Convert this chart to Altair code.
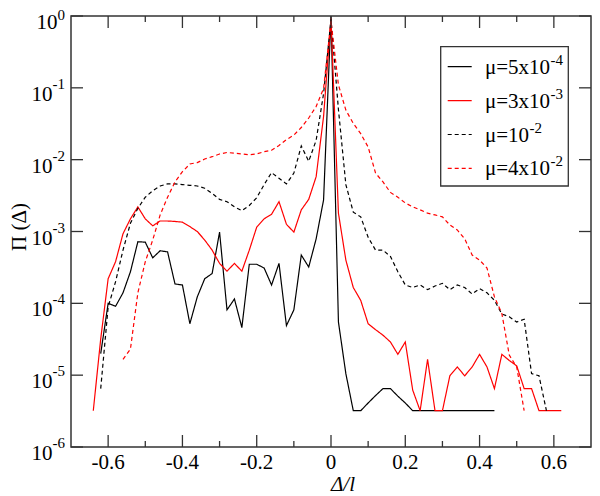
import altair as alt
import pandas as pd

FONT = "Liberation Serif"
W, H = 520, 431

# ---- data ----
names = ["mu=5e-4", "mu=3e-3", "mu=1e-2", "mu=4e-2"]
colors = ["#000000", "#ff0000", "#000000", "#ff0000"]
dashes = [[1, 0], [1, 0], [4, 3], [4, 3]]

s1_x = [-0.62, -0.60, -0.58, -0.56, -0.54, -0.52, -0.50, -0.48, -0.46, -0.44,
        -0.42, -0.40, -0.38, -0.36, -0.34, -0.32, -0.30, -0.28, -0.26, -0.24,
        -0.22, -0.20, -0.18, -0.16, -0.14, -0.12, -0.10, -0.08, -0.06, -0.04,
        -0.02, 0.00, 0.02, 0.04, 0.06, 0.08, 0.10, 0.12, 0.14, 0.16,
        0.18, 0.20, 0.22, 0.24, 0.26, 0.28, 0.30, 0.32, 0.34, 0.36,
        0.38, 0.40, 0.42, 0.44]
s1_y = [2.0e-5, 1.0e-4, 9.1e-5, 1.4e-4, 2.75e-4, 7.2e-4, 7.1e-4, 4.3e-4, 5.4e-4, 5.2e-4,
        1.86e-4, 1.8e-4, 5.2e-5, 1.23e-4, 2.2e-4, 2.6e-4, 9.8e-4, 8.1e-5, 1.15e-4, 4.6e-5,
        3.5e-4, 3.5e-4, 3.1e-4, 1.8e-4, 3.6e-4, 4.9e-5, 8.1e-5, 4.7e-4, 3.2e-4, 7.9e-4,
        2.75e-3, 1.0, 5.5e-5, 1.05e-5, 3.2e-6, 3.2e-6, 4.1e-6, 5.2e-6, 6.5e-6, 6.5e-6,
        5.1e-6, 4.1e-6, 3.2e-6, 3.2e-6, 3.2e-6, 3.2e-6, 3.2e-6, 3.2e-6, 3.2e-6, 3.2e-6,
        3.2e-6, 3.2e-6, 3.2e-6, 3.2e-6]

s2_x = [-0.64, -0.62, -0.60, -0.58, -0.56, -0.54, -0.52, -0.50, -0.48, -0.46,
        -0.44, -0.42, -0.40, -0.38, -0.36, -0.34, -0.32, -0.30, -0.28, -0.26,
        -0.24, -0.22, -0.20, -0.18, -0.16, -0.14, -0.12, -0.10, -0.08, -0.06,
        -0.04, -0.02, 0.00, 0.02, 0.04, 0.06, 0.08, 0.10, 0.12, 0.14,
        0.16, 0.18, 0.20, 0.22, 0.24, 0.26, 0.28, 0.30, 0.32, 0.34,
        0.36, 0.38, 0.40, 0.42, 0.44, 0.46, 0.48, 0.50, 0.52, 0.54,
        0.56, 0.58, 0.60, 0.62]
s2_y = [3.2e-6, 3.2e-5, 2.2e-4, 3.8e-4, 9.3e-4, 1.5e-3, 2.2e-3, 1.5e-3, 1.2e-3, 1.4e-3,
        1.4e-3, 1.38e-3, 1.35e-3, 1.17e-3, 1.0e-3, 7.6e-4, 5.5e-4, 3.6e-4, 2.8e-4, 3.6e-4,
        2.8e-4, 5.5e-4, 1.15e-3, 1.5e-3, 1.74e-3, 2.6e-3, 1.26e-3, 9.8e-4, 2.0e-3, 2.8e-3,
        5.8e-3, 4.0e-2, 0.93, 1.8e-3, 4.0e-4, 1.66e-4, 1.1e-4, 5.2e-5, 4.3e-5, 3.6e-5,
        2.9e-5, 1.95e-5, 2.9e-5, 6.2e-6, 3.2e-6, 1.66e-5, 3.2e-6, 3.2e-6, 9.8e-6, 1.3e-5,
        9.8e-6, 1.3e-5, 1.95e-5, 1.3e-5, 6.5e-6, 1.95e-5, 1.6e-5, 1.35e-5, 6.5e-6, 6.5e-6,
        3.2e-6, 3.2e-6, 3.2e-6, 3.2e-6]

s3_x = [-0.62, -0.60, -0.58, -0.56, -0.54, -0.52, -0.50, -0.48, -0.46, -0.44,
        -0.42, -0.40, -0.38, -0.36, -0.34, -0.32, -0.30, -0.28, -0.26, -0.24,
        -0.22, -0.20, -0.18, -0.16, -0.14, -0.12, -0.10, -0.08, -0.06, -0.04,
        -0.02, 0.00, 0.02, 0.04, 0.06, 0.08, 0.10, 0.12, 0.14, 0.16,
        0.18, 0.20, 0.22, 0.24, 0.26, 0.28, 0.30, 0.32, 0.34, 0.36,
        0.38, 0.40, 0.42, 0.44, 0.46, 0.48, 0.50, 0.52, 0.54, 0.56,
        0.58]
s3_y = [6.5e-6, 8.9e-5, 2.0e-4, 5.5e-4, 1.3e-3, 2.1e-3, 3.0e-3, 3.7e-3, 4.3e-3, 4.6e-3,
        4.6e-3, 4.5e-3, 4.4e-3, 4.3e-3, 4.0e-3, 3.4e-3, 2.8e-3, 2.6e-3, 2.2e-3, 1.95e-3,
        2.3e-3, 2.95e-3, 4.5e-3, 6.6e-3, 5.5e-3, 4.6e-3, 6.5e-3, 1.55e-2, 9.5e-3, 1.86e-2,
        8.3e-2, 0.9, 5.0e-2, 4.5e-3, 1.86e-3, 1.6e-3, 8.3e-4, 5.5e-4, 5.5e-4, 4.5e-4,
        2.75e-4, 1.8e-4, 1.66e-4, 1.8e-4, 1.55e-4, 1.74e-4, 1.9e-4, 1.55e-4, 1.8e-4, 1.66e-4,
        1.35e-4, 1.6e-4, 1.4e-4, 1.1e-4, 7.1e-5, 6.5e-5, 5.5e-5, 6.0e-5, 1.05e-5, 9.8e-6,
        3.2e-6]

s4_x = [-0.56, -0.54, -0.52, -0.50, -0.48, -0.46, -0.44, -0.42, -0.40, -0.38,
        -0.36, -0.34, -0.32, -0.30, -0.28, -0.26, -0.24, -0.22, -0.20, -0.18,
        -0.16, -0.14, -0.12, -0.10, -0.08, -0.06, -0.04, -0.02, 0.00, 0.02,
        0.04, 0.06, 0.08, 0.10, 0.12, 0.14, 0.16, 0.18, 0.20, 0.22,
        0.24, 0.26, 0.28, 0.30, 0.32, 0.34, 0.36, 0.38, 0.40, 0.42,
        0.44, 0.46, 0.48, 0.50, 0.52]
s4_y = [1.66e-5, 2.3e-5, 1.4e-4, 3.8e-4, 7.6e-4, 1.7e-3, 3.0e-3, 4.9e-3, 6.8e-3, 8.7e-3,
        9.1e-3, 1.02e-2, 1.1e-2, 1.2e-2, 1.26e-2, 1.23e-2, 1.2e-2, 1.17e-2, 1.2e-2, 1.29e-2,
        1.35e-2, 1.58e-2, 1.9e-2, 2.2e-2, 2.8e-2, 3.8e-2, 5.5e-2, 9.8e-2, 0.85, 0.11,
        4.9e-2, 3.2e-2, 2.3e-2, 1.5e-2, 6.5e-3, 4.9e-3, 3.5e-3, 3.0e-3, 2.5e-3, 2.2e-3,
        2.0e-3, 1.8e-3, 1.7e-3, 1.6e-3, 1.23e-3, 1.05e-3, 7.9e-4, 4.7e-4, 4.0e-4, 3.1e-4,
        1.23e-4, 7.2e-5, 1.9e-5, 1.3e-5, 3.2e-6]

legend_main = ["\u03bc=5x10", "\u03bc=3x10", "\u03bc=10", "\u03bc=4x10"]
legend_sup = ["-4", "-3", "-2", "-2"]

x_major = [-0.6, -0.4, -0.2, 0.0, 0.2, 0.4, 0.6]
x_major_labels = ["-0.6", "-0.4", "-0.2", "0", "0.2", "0.4", "0.6"]
x_minor = [-0.5, -0.3, -0.1, 0.1, 0.3, 0.5]
y_ticks = [1.0, 1e-1, 1e-2, 1e-3, 1e-4, 1e-5, 1e-6]
y_sup = ["0", "-1", "-2", "-3", "-4", "-5", "-6"]
x_title = "\u0394/l"
y_title = "\u03a0 (\u0394)"

# ---- build table ----
rows = []
for nm, xs, ys in zip(names, [s1_x, s2_x, s3_x, s4_x], [s1_y, s2_y, s3_y, s4_y]):
    assert len(xs) == len(ys), nm
    for a, b in zip(xs, ys):
        rows.append({"x": a, "y": b, "series": nm})
df = pd.DataFrame(rows)

xscale = alt.Scale(domain=[-0.7, 0.7], nice=False, zero=False)
yscale = alt.Scale(type="log", domain=[1e-6, 1.0], nice=False)
FRAME = "#333333"

def X(field="x"):
    return alt.X(f"{field}:Q", scale=xscale, axis=None)

def Y(field="y"):
    return alt.Y(f"{field}:Q", scale=yscale, axis=None)

lines = alt.Chart(df).mark_line(strokeWidth=1.2, clip=True).encode(
    x=X(), y=Y(),
    color=alt.Color("series:N", scale=alt.Scale(domain=names, range=colors), legend=None),
    strokeDash=alt.StrokeDash("series:N", scale=alt.Scale(domain=names, range=dashes), legend=None),
)

layers = [lines]

# ticks (inward), top and bottom
xmaj = pd.DataFrame({"x": x_major, "label": x_major_labels})
xmin = pd.DataFrame({"x": x_minor})
for dfx, ln in [(xmaj, 12), (xmin, 6)]:
    for y0, y1 in [(H, H - ln), (0, ln)]:
        layers.append(alt.Chart(dfx).mark_rule(color=FRAME, strokeWidth=1.3).encode(
            x=X(), y=alt.value(y0), y2=alt.value(y1)))

# x tick labels
layers.append(alt.Chart(xmaj).mark_text(align="center", baseline="alphabetic", dy=22,
                                        font=FONT, fontSize=21, color="black").encode(
    x=X(), y=alt.value(H), text="label:N"))

ydf = pd.DataFrame({"y": y_ticks, "sup": y_sup, "base": ["10"] * len(y_ticks)})
for x0, x1 in [(0, 12), (W, W - 12)]:
    layers.append(alt.Chart(ydf).mark_rule(color=FRAME, strokeWidth=1.3).encode(
        y=Y(), x=alt.value(x0), x2=alt.value(x1)))

# y tick labels 10^n
SUP = 15
def tw(s, size):
    w = {"-": 333, "=": 564, "x": 500, "\u03bc": 550}
    return sum(w.get(c, 500) for c in s) * size / 1000.0

for sup_group, sdy in [(["0"], 4), (["-1", "-2", "-3", "-4", "-5", "-6"], 1)]:
    sub = ydf[ydf["sup"].isin(sup_group)]
    layers.append(alt.Chart(sub).mark_text(align="right", baseline="alphabetic", dy=13,
                                            font=FONT, fontSize=21, color="black").encode(
        y=Y(), x=alt.value(-6 - tw(sup_group[0], SUP)), text="base:N"))
    layers.append(alt.Chart(sub).mark_text(align="right", baseline="alphabetic", dy=sdy,
                                           font=FONT, fontSize=SUP, color="black").encode(
        y=Y(), x=alt.value(-6), text="sup:N"))

one = pd.DataFrame({"a": [0]})

# axis titles
layers.append(alt.Chart(one).mark_text(align="center", baseline="alphabetic", font=FONT,
                                       fontSize=21, fontStyle="italic", color="black").encode(
    x=alt.value(272), y=alt.value(H + 44), text=alt.value(x_title)))
layers.append(alt.Chart(one).mark_text(align="center", baseline="middle", angle=270, font=FONT,
                                       fontSize=21, color="black").encode(
    x=alt.value(-51), y=alt.value(211), text=alt.value(y_title)))

# legend box
layers.append(alt.Chart(one).mark_rect(fill="white", stroke=FRAME, strokeWidth=1.3).encode(
    x=alt.value(369.7), x2=alt.value(497.3), y=alt.value(30.7), y2=alt.value(170)))
for i in range(4):
    ry = 50.7 + i * 33.9
    layers.append(alt.Chart(one).mark_rule(color=colors[i], strokeDash=dashes[i], strokeWidth=1.2).encode(
        x=alt.value(376.7), x2=alt.value(400.7), y=alt.value(ry)))
    layers.append(alt.Chart(one).mark_text(align="left", baseline="alphabetic", font=FONT,
                                           fontSize=21, color="black").encode(
        x=alt.value(414), y=alt.value(ry + 7), text=alt.value(legend_main[i])))
    layers.append(alt.Chart(one).mark_text(align="left", baseline="alphabetic", font=FONT,
                                           fontSize=SUP, color="black").encode(
        x=alt.value(414 + tw(legend_main[i], 21)), y=alt.value(ry - 2), text=alt.value(legend_sup[i])))

# plot frame
layers.append(alt.Chart(one).mark_rect(fill="white", fillOpacity=0, stroke=FRAME, strokeWidth=1.5).encode(
    x=alt.value(0), x2=alt.value(W), y=alt.value(0), y2=alt.value(H)))

chart = alt.layer(*layers).properties(
    width=W, height=H,
    padding={"left": 63, "top": 8, "right": 1, "bottom": 49},
    autosize=alt.AutoSizeParams(type="none"),
).configure_view(strokeWidth=0)

chart.save("out.html", embed_options={"renderer": "svg", "actions": False})
